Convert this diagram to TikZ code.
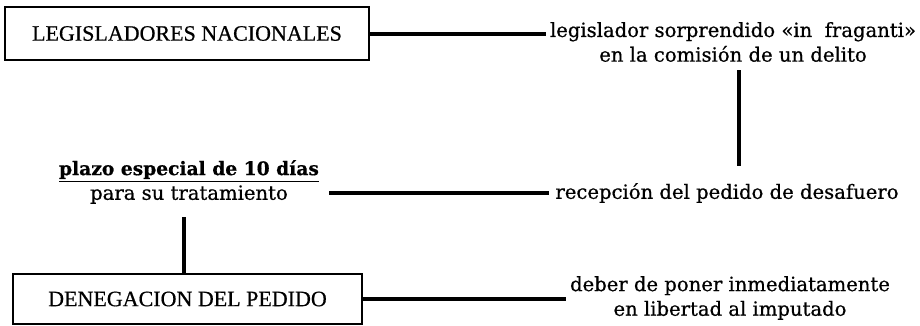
\documentclass[tikz,border=0pt]{standalone}
\usepackage{fontspec}
\setmainfont[FakeBold=0.7]{DejaVu Serif}
\newfontfamily\negrita[FakeBold=0.5]{DejaVu Serif Bold}
\newfontfamily\cajafont[FakeBold=0.6]{Liberation Serif}
\usetikzlibrary{positioning}

\begin{document}
\begin{tikzpicture}[x=0.75pt, y=-0.75pt,
    caja/.style={draw, line width=1.5pt, inner sep=0pt, font=\cajafont\fontsize{16.5}{19}\selectfont},
    texto/.style={align=center, inner sep=3pt, font=\fontsize{14.7}{18.5}\selectfont},
    enlace/.style={line width=3pt}]
  \useasboundingbox (0,0) rectangle (920,325);

  \node[caja, minimum width=273pt, minimum height=39.75pt] (legis) at (187,33.5) {LEGISLADORES NACIONALES};
  \node[caja, minimum width=261.75pt, minimum height=37.5pt] (denega) at (187.5,299) {DENEGACION DEL PEDIDO};

  \node[texto] (flagrante) at (733,42) {legislador sorprendido «in~~fraganti»\\en la comisión de un delito};
  \node[texto] (recepcion) at (727,193) {recepción del pedido de desafuero};
  \node[texto] (plazo) at (189,182) {\underline{{\negrita\fontsize{14}{18.5}\selectfont plazo especial de 10 días}}\\para su tratamiento};
  \node[texto] (libertad) at (730,298) {deber de poner inmediatamente\\en libertad al imputado};

  \draw[enlace] (legis.east) -- (legis.east -| flagrante.west);
  \draw[enlace, shorten <=3pt, shorten >=10pt] ([xshift=4.5pt]flagrante.south) -- ([xshift=4.5pt]flagrante.south |- recepcion.north);
  \draw[enlace, shorten <=2pt, shorten >=4.5pt] (recepcion.west) -- (recepcion.west -| plazo.east);
  \draw[enlace, shorten <=7pt] ([xshift=-4pt]plazo.south) -- ([xshift=-4pt]plazo.south |- denega.north);
  \draw[enlace] (denega.east) -- (denega.east -| libertad.west);
\end{tikzpicture}
\end{document}
